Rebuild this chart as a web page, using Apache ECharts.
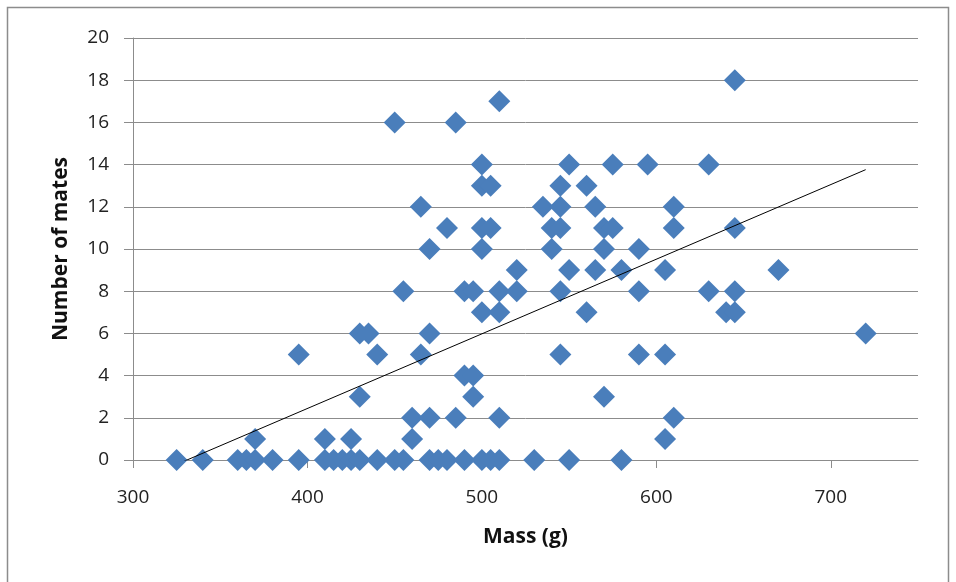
<!DOCTYPE html>
<html>
<head>
<meta charset="utf-8">
<script src="https://cdn.jsdelivr.net/npm/echarts@6/dist/echarts.min.js"></script>
<style>html,body{margin:0;padding:0;background:#fff}#c{width:956px;height:582px}</style>
</head>
<body>
<div id="c"></div>
<script>
// Mass (g) values, one list per number of mates
const mass0 = [325, 340, 360, 365, 370, 380, 395, 410, 415, 420, 425, 430, 440, 450, 455, 470, 475, 480, 490, 500, 505, 510, 530, 550, 580];
const mass1 = [370, 410, 425, 460, 605];
const mass2 = [460, 470, 485, 510, 610];
const mass3 = [430, 495, 570];
const mass4 = [490, 495];
const mass5 = [395, 440, 465, 545, 590, 605];
const mass6 = [430, 435, 470, 720];
const mass7 = [500, 510, 560, 640, 645];
const mass8 = [455, 490, 495, 510, 520, 545, 590, 630, 645];
const mass9 = [520, 550, 565, 580, 605, 670];
const mass10 = [470, 500, 540, 570, 590];
const mass11 = [480, 500, 505, 540, 545, 570, 575, 610, 645];
const mass12 = [465, 535, 545, 565, 610];
const mass13 = [500, 505, 545, 560];
const mass14 = [500, 550, 575, 595, 630];
const mass16 = [450, 485];
const mass17 = [510];
const mass18 = [645];
const massByMates = {0: mass0, 1: mass1, 2: mass2, 3: mass3, 4: mass4, 5: mass5, 6: mass6, 7: mass7, 8: mass8, 9: mass9, 10: mass10, 11: mass11, 12: mass12, 13: mass13, 14: mass14, 16: mass16, 17: mass17, 18: mass18};
// trend line end points (mass, mates)
const trendX = [325, 720];
const trendY = [-0.21, 13.76];
const xTicks = [300, 400, 500, 600, 700];

const points = [];
Object.keys(massByMates).forEach(k => {
  massByMates[k].forEach(m => points.push([m, Number(k)]));
});
const trend = trendX.map((x, i) => [x, trendY[i]]);

const chart = echarts.init(document.getElementById('c'), null, {renderer: 'canvas'});
const font = '"Open Sans", Lato, "DejaVu Sans", sans-serif';
chart.setOption({
  animation: false,
  backgroundColor: '#fff',
  graphic: [{
    type: 'rect', shape: {x: 7.5, y: 7.5, width: 941, height: 620},
    style: {fill: 'none', stroke: '#8c8c8c', lineWidth: 1.5}, silent: true, z: -1
  }],
  grid: {left: 133, right: 38, top: 38, bottom: 122},
  xAxis: {
    type: 'value', min: 300, max: 750, interval: 100,
    name: 'Mass (g)', nameLocation: 'middle', nameGap: 67,
    nameTextStyle: {fontFamily: font, fontSize: 21, fontWeight: 'bold', color: '#111'},
    axisLine: {show: true, onZero: false, lineStyle: {color: '#8c8c8c', width: 1}},
    axisTick: {show: true, length: 8, customValues: xTicks, lineStyle: {color: '#8c8c8c'}},
    axisLabel: {customValues: xTicks, margin: 28, fontFamily: font, fontSize: 19, color: '#222'},
    splitLine: {show: false}
  },
  yAxis: {
    type: 'value', min: 0, max: 20, interval: 2,
    name: 'Number of mates', nameLocation: 'middle', nameGap: 61,
    nameTextStyle: {fontFamily: font, fontSize: 21, fontWeight: 'bold', color: '#111'},
    axisLine: {show: true, lineStyle: {color: '#8c8c8c', width: 1}},
    axisTick: {show: true, length: 9, lineStyle: {color: '#8c8c8c'}},
    axisLabel: {margin: 24, fontFamily: font, fontSize: 19, color: '#222'},
    splitLine: {show: true, lineStyle: {color: '#8c8c8c', width: 1}}
  },
  series: [{
    type: 'scatter', data: points, symbol: 'diamond', symbolSize: 22,
    itemStyle: {color: '#4A7EBB', opacity: 1}, z: 2
  }, {
    type: 'line', data: trend, symbol: 'none', clip: true,
    lineStyle: {color: '#000', width: 1}, z: 3
  }]
});
</script>
</body>
</html>
